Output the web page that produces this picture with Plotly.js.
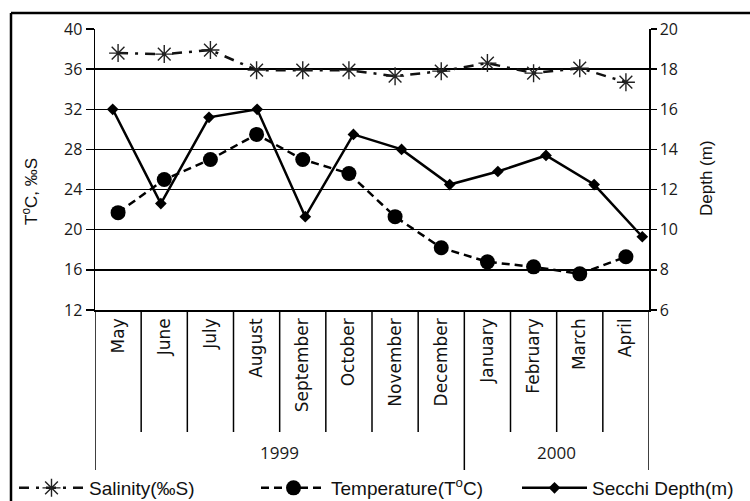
<!DOCTYPE html>
<html>
<head>
<meta charset="utf-8">
<script src="https://cdn.plot.ly/plotly-3.0.1.min.js"></script>
<style>html,body{margin:0;padding:0;background:#fff;}#chart{width:750px;height:501px;}</style>
</head>
<body>
<div id="chart"></div>
<script>
// ---- data ----
const months = ["May","June","July","August","September","October","November","December","January","February","March","April"];
const years = ["1999","2000"];
const yearSpan = [8, 4]; // number of months in each year group
const salinity = [37.6, 37.5, 37.9, 35.9, 35.9, 35.9, 35.3, 35.8, 36.6, 35.6, 36.1, 34.7];
const temperature = [21.7, 25.0, 27.0, 29.5, 27.0, 25.6, 21.3, 18.2, 16.8, 16.3, 15.6, 17.3];
const secchi = [16.0, 11.3, 15.6, 16.0, 10.65, 14.75, 14.0, 12.25, 12.9, 13.7, 12.25, 9.65];
const leftTicks = [12, 16, 20, 24, 28, 32, 36, 40];
const rightTicks = [6, 8, 10, 12, 14, 16, 18, 20];

// ---- geometry (pixels) ----
const W = 750, H = 501;
const L = 95, R = 649, T = 29, B = 310;
const pw = R - L, ph = B - T;
const px = x => (x - L) / pw;
const py = y => (B - y) / ph;

const tickFont = {family: "Open Sans, Liberation Sans, sans-serif", size: 16, color: "#1a1a1a"};
const monthFont = {family: "DejaVu Sans, sans-serif", size: 17, color: "#111"};
const titleFont = {family: "Liberation Sans, sans-serif", size: 17, color: "#111"};
const legendFont = {family: "Liberation Sans Narrow, Liberation Sans, sans-serif", size: 19, color: "#111"};

const secchiX = secchi.map((_, i) => i);

const traces = [
  {
    x: months, y: salinity, name: "Salinity(‰S)", type: "scatter", mode: "lines+markers",
    xaxis: "x", yaxis: "y", legend: "legend",
    line: {color: "#111", width: 2.5, dash: "10px,7px,3px,7px"},
    marker: {symbol: "asterisk-open", size: 15, color: "#222", line: {color: "#222", width: 1.4}}
  },
  {
    x: months, y: temperature, name: "Temperature(T<sup>o</sup>C)", type: "scatter", mode: "lines+markers",
    xaxis: "x", yaxis: "y", legend: "legend2",
    line: {color: "#000", width: 2.5, dash: "8px,5px"},
    marker: {symbol: "circle", size: 15, color: "#000"}
  },
  {
    x: secchiX, y: secchi, name: "Secchi Depth(m)", type: "scatter", mode: "lines+markers",
    xaxis: "x2", yaxis: "y2", legend: "legend3",
    line: {color: "#000", width: 2.5},
    marker: {symbol: "diamond", size: 9, color: "#000"}
  }
];

// separator lines under the category axis
const shapes = [];
const monthBottom = py(432), yearBottom = py(470);
let boundary = 0;
const yearBoundaries = [ -0.5 ];
yearSpan.forEach(n => { boundary += n; yearBoundaries.push(boundary - 0.5); });
for (let k = 1; k < months.length; k++) {
  const xb = k - 0.5;
  if (yearBoundaries.includes(xb)) continue;
  shapes.push({type: "line", xref: "x", yref: "paper", x0: xb, x1: xb, y0: 0, y1: monthBottom,
    line: {color: "#000", width: 1.5}});
}
yearBoundaries.forEach(xb => {
  shapes.push({type: "line", xref: "x", yref: "paper", x0: xb, x1: xb, y0: 0, y1: yearBottom,
    line: {color: "#000", width: 1.5}});
});
// outer frame (left and top)
shapes.push({type: "line", xref: "paper", yref: "paper", x0: px(11), x1: px(11), y0: py(13), y1: py(H + 5),
  line: {color: "#000", width: 2.5}});
shapes.push({type: "line", xref: "paper", yref: "paper", x0: px(11), x1: px(W + 5), y0: py(13), y1: py(13),
  line: {color: "#000", width: 2.5}});

const annotations = [];
let start = 0;
years.forEach((yr, i) => {
  const center = start + (yearSpan[i] - 1) / 2;
  annotations.push({text: yr, xref: "x", yref: "paper", x: center, y: py(452), showarrow: false,
    xanchor: "center", yanchor: "middle", font: {family: "Open Sans, Liberation Sans, sans-serif", size: 17, color: "#1a1a1a"}});
  start += yearSpan[i];
});
// axis titles placed as annotations for exact position
annotations.push({text: "T<sup>o</sup>C, ‰S", xref: "paper", yref: "paper", x: px(30), y: py(192), textangle: -90,
  showarrow: false, xanchor: "center", yanchor: "middle", font: titleFont});
annotations.push({text: "Depth (m)", xref: "paper", yref: "paper", x: px(706), y: py(178), textangle: -90,
  showarrow: false, xanchor: "center", yanchor: "middle", font: titleFont});

const secchiLo = -(112.7 - L) / 48.145;
const secchiHi = 11 + (R - 642.3) / 48.145;

const legendBase = {orientation: "h", xanchor: "left", y: py(488), yanchor: "middle",
  font: legendFont, itemwidth: 65, bgcolor: "rgba(0,0,0,0)"};

const layout = {
  width: W, height: H,
  margin: {l: L, r: W - R, t: T, b: H - B, pad: 0, autoexpand: false},
  paper_bgcolor: "#fff", plot_bgcolor: "#fff",
  showlegend: true,
  legend: Object.assign({}, legendBase, {x: px(14)}),
  legend2: Object.assign({}, legendBase, {x: px(256)}),
  legend3: Object.assign({}, legendBase, {x: px(517)}),
  xaxis: {
    type: "category", categoryorder: "array", categoryarray: months,
    range: [-0.5, months.length - 0.5], automargin: false,
    tickangle: -90, tickfont: monthFont, ticks: "",
    showline: true, linecolor: "#000", linewidth: 1.5, showgrid: false, zeroline: false
  },
  xaxis2: {
    type: "linear", overlaying: "x", range: [secchiLo, secchiHi],
    visible: false, showgrid: false, zeroline: false
  },
  yaxis: {
    range: [12, 40], tickvals: leftTicks, ticks: "outside", ticklen: 8, tickwidth: 1.5, tickcolor: "#000",
    showline: true, linecolor: "#000", linewidth: 1.5, automargin: false,
    showgrid: true, gridcolor: "#000", gridwidth: 1.5, zeroline: false,
    tickfont: tickFont
  },
  yaxis2: {
    range: [6, 20], tickvals: rightTicks, overlaying: "y", side: "right", automargin: false,
    ticks: "outside", ticklen: 6, tickwidth: 1.5, tickcolor: "#000",
    showline: true, linecolor: "#000", linewidth: 1.5, showgrid: false, zeroline: false,
    tickfont: tickFont
  },
  shapes: shapes,
  annotations: annotations
};

Plotly.newPlot("chart", traces, layout, {staticPlot: true, displayModeBar: false});
</script>
</body>
</html>
